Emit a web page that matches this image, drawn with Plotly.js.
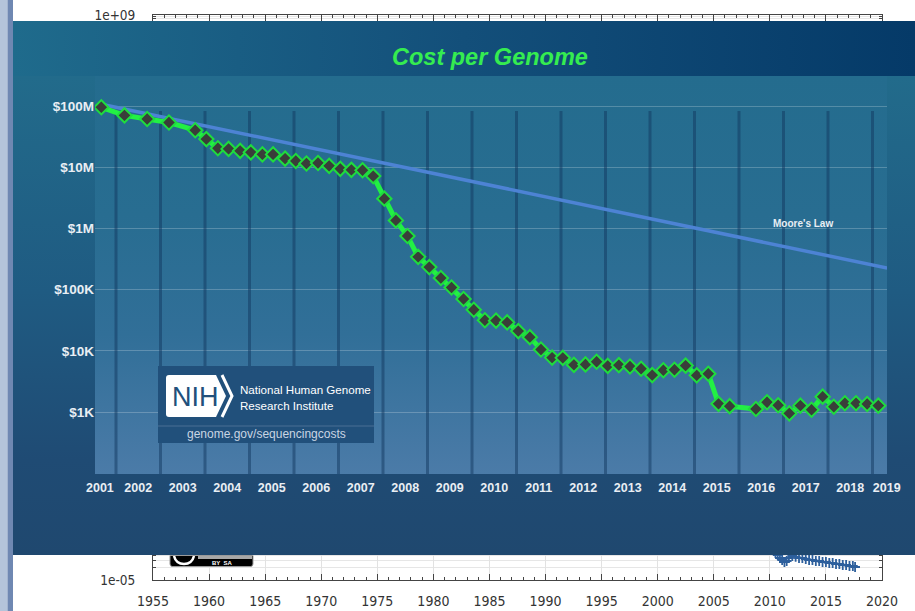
<!DOCTYPE html>
<html><head><meta charset="utf-8">
<script src="https://cdn.plot.ly/plotly-3.0.1.min.js"></script>
<style>html,body{margin:0;padding:0;background:#fff;overflow:hidden}</style>
</head><body><div id="chart" style="width:915px;height:611px"></div>
<script>
// ---------------- DATA ----------------
// Cost per genome (NHGRI), fractional year of each data point
const genomeDates = [2001.67, 2002.19, 2002.70, 2003.19, 2003.78, 2004.03, 2004.29, 2004.53, 2004.79, 2005.03,
  2005.29, 2005.53, 2005.80, 2006.04, 2006.28, 2006.54, 2006.79, 2007.04, 2007.29, 2007.54,
  2007.78, 2008.03, 2008.29, 2008.55, 2008.79, 2009.04, 2009.30, 2009.54, 2009.81, 2010.04,
  2010.29, 2010.54, 2010.79, 2011.04, 2011.30, 2011.55, 2011.80, 2012.04, 2012.29, 2012.55,
  2012.80, 2013.05, 2013.30, 2013.55, 2013.80, 2014.05, 2014.30, 2014.55, 2014.80, 2015.05,
  2015.31, 2015.54, 2015.79, 2016.38, 2016.63, 2016.88, 2017.13, 2017.38, 2017.63, 2017.88,
  2018.13, 2018.38, 2018.63, 2018.88, 2019.13];
const genomeCost = [95300000, 70200000, 61400000, 53800000, 40200000, 28800000, 20400000, 19900000, 18500000, 17500000,
  16200000, 16200000, 13800000, 12600000, 11500000, 11700000, 10500000, 9410000, 9050000, 8930000,
  7150000, 3060000, 1350000, 752000, 343000, 233000, 155000, 108000, 70300, 46800,
  31500, 31100, 29100, 21000, 16700, 10500, 7740, 7670, 5900, 5990,
  6620, 5670, 5830, 5550, 5100, 4010, 4800, 4900, 5730, 3970,
  4210, 1360, 1245, 1120, 1440, 1290, 950, 1270, 1090, 1780,
  1220, 1390, 1390, 1350, 1270];
const mooreDates = [2001.67, 2019.33];
const mooreCost = [107000000, 225000];
const costTickVals = [1e3, 1e4, 1e5, 1e6, 1e7, 1e8];
const costTickText = ['$1K', '$10K', '$100K', '$1M', '$10M', '$100M'];
const yearLabels = [2001, 2002, 2003, 2004, 2005, 2006, 2007, 2008, 2009, 2010,
  2011, 2012, 2013, 2014, 2015, 2016, 2017, 2018, 2019];

// background chart (mostly hidden behind the overlay)
const bgYears = [2010.5, 2010.7, 2010.9, 2011.1, 2011.3, 2011.5, 2011.7, 2012.0, 2012.3, 2012.6,
  2012.9, 2013.2, 2013.5, 2013.8, 2014.1, 2014.4, 2014.7, 2015.0, 2015.3, 2015.6,
  2015.9, 2016.2, 2016.5, 2016.8, 2017.1, 2017.4, 2017.6];
const bgValues = [4.67e-5, 4.16e-5, 3.51e-5, 3.13e-5, 2.79e-5, 2.96e-5, 3.51e-5, 3.93e-5, 3.72e-5, 3.51e-5,
  3.51e-5, 3.31e-5, 3.13e-5, 3.13e-5, 2.96e-5, 2.96e-5, 2.79e-5, 2.79e-5, 2.64e-5, 2.64e-5,
  2.49e-5, 2.49e-5, 2.35e-5, 2.35e-5, 2.22e-5, 2.22e-5, 2.10e-5];
const bgYearTicks = [1955, 1960, 1965, 1970, 1975, 1980, 1985, 1990, 1995, 2000, 2005, 2010, 2015, 2020];
const bgExponents = [-5, -4, -3, -2, -1, 0, 1, 2, 3, 4, 5, 6, 7, 8, 9];
const bgVisibleLabels = [-5, 9];

// ---------------- GEOMETRY / STYLE ----------------
const W = 915, H = 611;
const fx = p => p / W, fy = p => 1 - p / H;
const pxYear = 44.5, year0px = 116;           // 2002.0 at x=116
const pxDec = 61.2, dec8px = 106;             // 1e8 at y=106
const X3_MIN = 2002 + (95 - year0px) / pxYear;
const X3_MAX = 2002 + (887 - year0px) / pxYear;
const Y3_TOP = 8 + (dec8px - 76) / pxDec;
const Y3_BOT = 8 - (474 - dec8px) / pxDec;
const Y_LINE_TOP = 8 - (111 - dec8px) / pxDec;

const bgTickVals = bgExponents.map(e => Math.pow(10, e));
const bgTickText = bgExponents.map(e => bgVisibleLabels.includes(e) ?
  '1e' + (e < 0 ? '-' : '+') + String(Math.abs(e)).padStart(2, '0') : '');
const yearTickPos = yearLabels.map(y => Math.min(Math.max(y + 0.5, X3_MIN + 0.11), X3_MAX - 0.006));

// year separator lines (derived from the year list)
const sepX = [], sepY = [];
yearLabels.filter(y => y > 2001).forEach(y => {
  sepX.push(y, y, null);
  sepY.push(Math.pow(10, Y_LINE_TOP), Math.pow(10, Y3_BOT), null);
});

function hex(c){return [parseInt(c.slice(1,3),16),parseInt(c.slice(3,5),16),parseInt(c.slice(5,7),16)];}
function interp(stops, t){
  for (let i = 0; i < stops.length - 1; i++) {
    const a = stops[i], b = stops[i+1];
    if (t >= a[0] && t <= b[0]) {
      const u = (t - a[0]) / (b[0] - a[0] || 1);
      const ca = hex(a[1]), cb = hex(b[1]);
      return 'rgb(' + ca.map((v,k)=>Math.round(v + (cb[k]-v)*u)).join(',') + ')';
    }
  }
  return stops[stops.length-1][1];
}

const TITLE_STOPS = [[0,'#1f6b8c'],[0.5,'#134f7a'],[1,'#053a68']];
const BODY_STOPS = [[0,'#226b8b'],[0.45,'#1f5b82'],[0.8,'#1f4b74'],[1,'#1f486f']];
const PLOT_STOPS = [[0,'#246c8e'],[0.35,'#286d91'],[0.65,'#316f98'],[1,'#4b7ba8']];

// smooth gradient background of the overlay panel (SVG image)
function grad(id, stops, vertical){
  return "<linearGradient id='" + id + "' x1='0' y1='0' x2='" + (vertical ? 0 : 1) + "' y2='" + (vertical ? 1 : 0) + "'>" +
    stops.map(s => "<stop offset='" + s[0] + "' stop-color='" + s[1] + "'/>").join('') + "</linearGradient>";
}
const svgPanel = "<svg xmlns='http://www.w3.org/2000/svg' width='902' height='534' viewBox='0 0 902 534' preserveAspectRatio='none'>" +
  "<defs>" + grad('t', TITLE_STOPS, false) + grad('b', BODY_STOPS, true) + grad('p', PLOT_STOPS, true) + "</defs>" +
  "<rect x='0' y='0' width='902' height='55' fill='url(#t)'/>" +
  "<rect x='0' y='55' width='902' height='479' fill='url(#b)'/>" +
  "<rect x='82' y='55' width='792' height='398' fill='url(#p)'/>" +
  "</svg>";
const panelURI = 'data:image/svg+xml;charset=utf-8,' + encodeURIComponent(svgPanel);

const shapes = [];
// fallback flat colours under the gradient image
shapes.push({type:'rect', xref:'x2', yref:'y2', layer:'below', x0:13, x1:915, y0:21, y1:76, fillcolor:'#145179', line:{width:0}});
shapes.push({type:'rect', xref:'x2', yref:'y2', layer:'below', x0:13, x1:915, y0:76, y1:555, fillcolor:'#1f587f', line:{width:0}});
shapes.push({type:'rect', xref:'x2', yref:'y2', layer:'below', x0:95, x1:887, y0:76, y1:474, fillcolor:'#2e6f96', line:{width:0}});

// NIH logo box
const P = (x, y) => fx(x).toFixed(5) + ',' + fy(y).toFixed(5);
shapes.push({type:'rect', xref:'paper', yref:'paper', layer:'above', x0:fx(158), x1:fx(374), y0:fy(443), y1:fy(366),
  fillcolor:'#21507b', line:{width:0}});
shapes.push({type:'line', xref:'paper', yref:'paper', layer:'above', x0:fx(158), x1:fx(374), y0:fy(426), y1:fy(426),
  line:{color:'#4b6f95', width:1}});
shapes.push({type:'path', xref:'paper', yref:'paper', layer:'above',
  path:'M'+P(169,375)+' L'+P(216,375)+' L'+P(226,396)+' L'+P(216,417)+' L'+P(169,417)+' Q'+P(166,417)+' '+P(166,414)+' L'+P(166,378)+' Q'+P(166,375)+' '+P(169,375)+' Z',
  fillcolor:'#ffffff', line:{width:0}});
shapes.push({type:'path', xref:'paper', yref:'paper', layer:'above',
  path:'M'+P(222,375)+' L'+P(232,396)+' L'+P(222,417),
  line:{color:'#ffffff', width:3}});
// left window strip
shapes.push({type:'rect', xref:'paper', yref:'paper', layer:'above', x0:0, x1:fx(7.5), y0:0, y1:1, fillcolor:'#b4c4da', line:{width:0}});
shapes.push({type:'rect', xref:'paper', yref:'paper', layer:'above', x0:fx(7.5), x1:fx(13), y0:0, y1:1, fillcolor:'#6f88b2', line:{width:0}});
// CC BY-SA badge (lower part visible)
shapes.push({type:'path', xref:'paper', yref:'paper', layer:'above',
  path:'M'+P(170,555.5)+' L'+P(253,555.5)+' L'+P(253,564)+' Q'+P(253,566.5)+' '+P(250.5,566.5)+' L'+P(172.5,566.5)+' Q'+P(170,566.5)+' '+P(170,564)+' Z',
  fillcolor:'#000000', line:{color:'#9a9a9a', width:1}});
shapes.push({type:'path', xref:'paper', yref:'paper', layer:'above',
  path:'M'+P(174,556)+' Q'+P(176,564)+' '+P(184,564)+' Q'+P(192,564)+' '+P(194,556),
  line:{color:'#ffffff', width:2.5}});
shapes.push({type:'rect', xref:'paper', yref:'paper', layer:'above', x0:fx(198), x1:fx(252), y0:fy(559), y1:fy(556),
  fillcolor:'#a8a8a8', line:{width:0}});

const F = 'Liberation Sans, Arial, Helvetica, sans-serif';
const annotations = [
  {xref:'paper', yref:'paper', x:fx(490), y:fy(57), text:'Cost per Genome', showarrow:false, xanchor:'center', yanchor:'middle',
   font:{family:F, size:23.5, color:'#35ec50', weight:'bold', style:'italic'}},
  {xref:'paper', yref:'paper', x:fx(803), y:fy(223), text:"Moore's Law", showarrow:false, xanchor:'center', yanchor:'middle',
   font:{family:F, size:10, color:'#e8eef4', weight:'bold'}},
  {xref:'paper', yref:'paper', x:fx(195), y:fy(397), text:'NIH', showarrow:false, xanchor:'center', yanchor:'middle',
   font:{family:F, size:27, color:'#21507b'}},
  {xref:'paper', yref:'paper', x:fx(238), y:fy(389), text:'National Human Genome', showarrow:false, xanchor:'left', yanchor:'middle',
   font:{family:F, size:11.6, color:'#ffffff'}},
  {xref:'paper', yref:'paper', x:fx(238), y:fy(405), text:'Research Institute', showarrow:false, xanchor:'left', yanchor:'middle',
   font:{family:F, size:11.6, color:'#ffffff'}},
  {xref:'paper', yref:'paper', x:fx(266), y:fy(434), text:'genome.gov/sequencingcosts', showarrow:false, xanchor:'center', yanchor:'middle',
   font:{family:F, size:12, color:'#c9d5e3'}},
  {xref:'paper', yref:'paper', x:fx(222), y:fy(562.5), text:'BY  SA', showarrow:false, xanchor:'center', yanchor:'middle',
   font:{family:F, size:6, color:'#ffffff', weight:'bold'}}
];

const images = [
  {source: panelURI, xref:'x2', yref:'y2', x:13, y:21, sizex:902, sizey:534, xanchor:'left', yanchor:'top',
   sizing:'stretch', layer:'below', opacity:1}
];

const NARROW = 'Liberation Sans Narrow, DejaVu Sans Condensed, Arial Narrow, sans-serif';
const traces = [
  {type:'scatter', mode:'markers', x:bgYears, y:bgValues, xaxis:'x', yaxis:'y', hoverinfo:'skip',
   marker:{symbol:'cross-thin', size:7, color:'#2d5f9c', line:{width:1.8, color:'#2d5f9c'}}},
  {type:'scatter', mode:'markers', x:[null], y:[null], xaxis:'x2', yaxis:'y2', hoverinfo:'skip'},
  {type:'scatter', mode:'lines', x:sepX, y:sepY, xaxis:'x3', yaxis:'y3', hoverinfo:'skip', connectgaps:false,
   line:{color:'rgba(18,55,95,0.5)', width:3}},
  {type:'scatter', mode:'lines', x:mooreDates, y:mooreCost, xaxis:'x3', yaxis:'y3', hoverinfo:'skip',
   line:{color:'#4d83d4', width:3.5}},
  {type:'scatter', mode:'lines+markers', x:genomeDates, y:genomeCost, xaxis:'x3', yaxis:'y3', hoverinfo:'skip',
   line:{color:'#22f044', width:5},
   marker:{symbol:'diamond', size:11, color:'#3a3d3a', line:{color:'#1fdc3e', width:2}}}
];

const layout = {
  width: W, height: H, margin:{l:0, r:0, t:0, b:0, pad:0},
  paper_bgcolor:'#ffffff', plot_bgcolor:'rgba(0,0,0,0)', showlegend:false, hovermode:false,
  xaxis:{domain:[fx(153), fx(882)], anchor:'y', range:[1955, 2020], tickmode:'array', tickvals:bgYearTicks,
    ticks:'inside', ticklen:6, tickwidth:1, tickcolor:'#444', showline:true, linecolor:'#444', linewidth:1,
    mirror:'allticks', showgrid:true, gridcolor:'#e2e2e2', zeroline:false, ticklabelstandoff:8,
    minor:{tickmode:'linear', tick0:1955, dtick:1, ticks:'inside', ticklen:3, tickcolor:'#444', showgrid:false},
    tickfont:{family:NARROW, size:14, color:'#333'}},
  yaxis:{domain:[fy(580), fy(15)], anchor:'x', type:'log', range:[-5, 9], tickmode:'array', tickvals:bgTickVals, ticktext:bgTickText,
    ticks:'inside', ticklen:6, tickcolor:'#444', showline:true, linecolor:'#444', linewidth:1, mirror:'allticks',
    showgrid:true, gridcolor:'#e2e2e2', zeroline:false, ticklabelstandoff:14,
    minor:{dtick:'D1', ticks:'inside', ticklen:3, tickcolor:'#444', showgrid:true, gridcolor:'#e6e6e6'},
    tickfont:{family:NARROW, size:13.5, color:'#333'}},
  xaxis2:{domain:[fx(13), 1], anchor:'y2', range:[13, 915], visible:false, fixedrange:true},
  yaxis2:{domain:[fy(555), fy(21)], anchor:'x2', range:[555, 21], visible:false, fixedrange:true},
  xaxis3:{domain:[fx(95), fx(887)], anchor:'y3', range:[X3_MIN, X3_MAX], tickmode:'array', tickvals:yearTickPos, ticktext:yearLabels.map(String),
    showgrid:false, zeroline:false, showline:false, ticks:'', ticklabelstandoff:4,
    tickfont:{family:F, size:12.5, color:'#e9eef4', weight:'bold'}},
  yaxis3:{domain:[fy(474), fy(76)], anchor:'x3', type:'log', range:[Y3_BOT, Y3_TOP], tickmode:'array', tickvals:costTickVals, ticktext:costTickText,
    showgrid:true, gridcolor:'rgba(255,255,255,0.22)', gridwidth:1, zeroline:false, showline:false, ticks:'',
    tickfont:{family:F, size:13.5, color:'#e9eef4', weight:'bold'}},
  shapes: shapes,
  images: images,
  annotations: annotations
};

Plotly.newPlot('chart', traces, layout, {staticPlot:true, displayModeBar:false});
</script></body></html>
